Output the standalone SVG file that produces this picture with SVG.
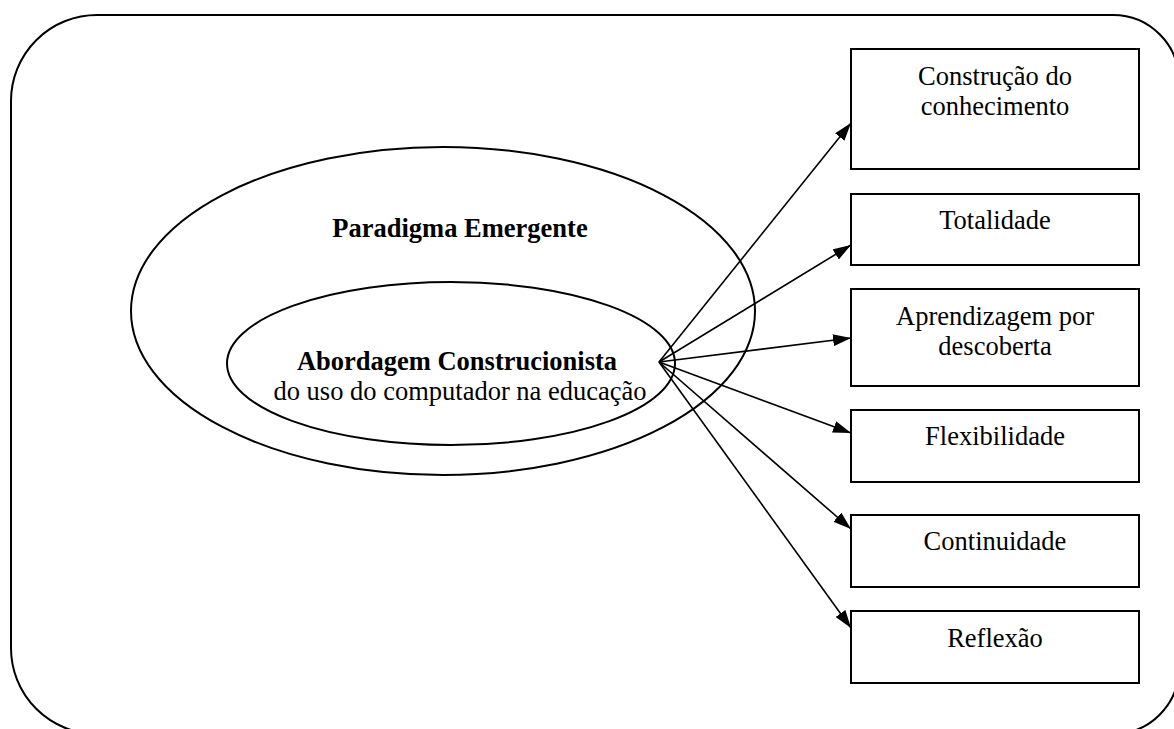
<svg xmlns="http://www.w3.org/2000/svg" width="1174" height="729" viewBox="0 0 1174 729">
<style>
.frame{fill:none;stroke:#000;stroke-width:2}
.ell{fill:none;stroke:#000;stroke-width:2}
.box{fill:#fff;stroke:#000;stroke-width:2}
.t{font-family:"Liberation Serif","Times New Roman",serif;font-size:26.5px;fill:#000;text-anchor:middle}
.b{font-weight:bold}
.c{stroke:#000;stroke-width:1.6;fill:none;marker-end:url(#arr)}
</style>
<defs>
<marker id="arr" markerUnits="userSpaceOnUse" markerWidth="18" markerHeight="12" viewBox="0 0 18 12" refX="18" refY="6" orient="auto">
<path d="M0,0 L18,6 L0,12 z" fill="#000"/>
</marker>
</defs>
<rect width="1174" height="729" fill="#fff"/>
<path id="frame" class="frame" d="M97 15 L1113 15 A66 66 0 0 1 1179 81 L1179 668 A66 66 0 0 1 1113 734 L97 734 A86 86 0 0 1 11 648 L11 101 A86 86 0 0 1 97 15 Z"/>
<g id="paradigma">
<ellipse class="ell" cx="443" cy="311" rx="312" ry="164"/>
<text class="t b" x="460" y="237">Paradigma Emergente</text>
</g>
<g id="abordagem">
<ellipse class="ell" cx="451" cy="363.5" rx="224" ry="81.5"/>
<text class="t b" x="457" y="370">Abordagem Construcionista</text>
<text class="t" x="460" y="400">do uso do computador na educação</text>
</g>
<g id="connectors">
<line class="c" x1="659" y1="362" x2="851" y2="123"/>
<line class="c" x1="659" y1="362" x2="851" y2="245"/>
<line class="c" x1="659" y1="362" x2="851" y2="338"/>
<line class="c" x1="659" y1="362" x2="851" y2="433"/>
<line class="c" x1="659" y1="362" x2="851" y2="529"/>
<line class="c" x1="659" y1="362" x2="851" y2="628"/>
</g>
<g id="n1">
<rect class="box" x="851" y="49" width="288" height="120"/>
<text class="t" x="995" y="85">Construção do</text>
<text class="t" x="995" y="115">conhecimento</text>
</g>
<g id="n2">
<rect class="box" x="851" y="194" width="288" height="71"/>
<text class="t" x="995" y="229">Totalidade</text>
</g>
<g id="n3">
<rect class="box" x="851" y="289" width="288" height="97"/>
<text class="t" x="995" y="325">Aprendizagem por</text>
<text class="t" x="995" y="355">descoberta</text>
</g>
<g id="n4">
<rect class="box" x="851" y="410" width="288" height="72"/>
<text class="t" x="995" y="445">Flexibilidade</text>
</g>
<g id="n5">
<rect class="box" x="851" y="515" width="288" height="72"/>
<text class="t" x="995" y="550">Continuidade</text>
</g>
<g id="n6">
<rect class="box" x="851" y="611" width="288" height="72"/>
<text class="t" x="995" y="647">Reflexão</text>
</g>
</svg>
